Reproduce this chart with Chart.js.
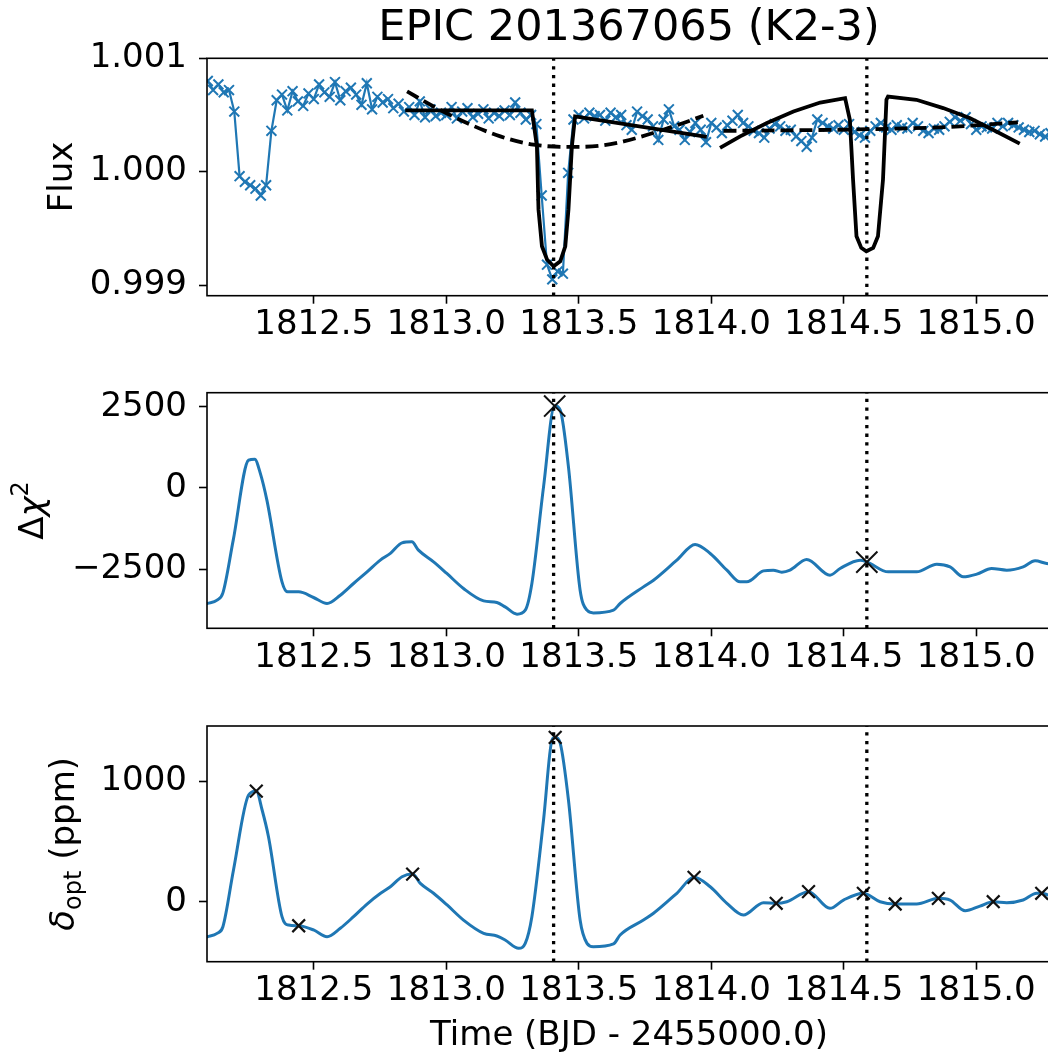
<!DOCTYPE html>
<html>
<head>
<meta charset="utf-8">
<script src="https://cdn.jsdelivr.net/npm/chart.js@4.4.0/dist/chart.umd.min.js"></script>
<style>
  html, body { margin: 0; padding: 0; background: #fff; overflow: hidden; }
  #marco { position: relative; width: 1048px; height: 1059px; overflow: hidden; background: #fff; }
  #marco canvas { position: absolute; left: 0; top: 0; }
</style>
</head>
<body>
<div id="marco">
  <canvas id="flujo" width="1052" height="1059"></canvas>
  <canvas id="chi" width="1052" height="1059"></canvas>
  <canvas id="delta" width="1052" height="1059"></canvas>
</div>
<script>
// Eje de tiempo compartido
const xTicks = [1812.5, 1813.0, 1813.5, 1814.0, 1814.5, 1815.0];
const transitTimes = [1813.405, 1814.587];

// Panel 1: flujo
const fluxTicks = [0.999, 1.000, 1.001];
const fluxTime = [
  1812.10, 1812.12, 1812.14, 1812.16, 1812.18, 1812.20, 1812.22, 1812.24, 1812.26, 1812.28,
  1812.30, 1812.32, 1812.34, 1812.36, 1812.38, 1812.40, 1812.42, 1812.44, 1812.46, 1812.48,
  1812.50, 1812.52, 1812.54, 1812.56, 1812.58, 1812.60, 1812.62, 1812.64, 1812.66, 1812.68,
  1812.70, 1812.72, 1812.74, 1812.76, 1812.78, 1812.80, 1812.82, 1812.84, 1812.86, 1812.88,
  1812.90, 1812.92, 1812.94, 1812.96, 1812.98, 1813.00, 1813.02, 1813.04, 1813.06, 1813.08,
  1813.10, 1813.12, 1813.14, 1813.16, 1813.18, 1813.20, 1813.22, 1813.24, 1813.26, 1813.28,
  1813.30, 1813.32, 1813.34, 1813.36, 1813.38, 1813.40, 1813.42, 1813.44, 1813.46, 1813.48,
  1813.50, 1813.52, 1813.54, 1813.56, 1813.58, 1813.60, 1813.62, 1813.64, 1813.66, 1813.68,
  1813.70, 1813.72, 1813.74, 1813.76, 1813.78, 1813.80, 1813.82, 1813.84, 1813.86, 1813.88,
  1813.90, 1813.92, 1813.94, 1813.96, 1813.98, 1814.00, 1814.02, 1814.04, 1814.06, 1814.08,
  1814.10, 1814.12, 1814.14, 1814.16, 1814.18, 1814.20, 1814.22, 1814.24, 1814.26, 1814.28,
  1814.30, 1814.32, 1814.34, 1814.36, 1814.38, 1814.40, 1814.42, 1814.44, 1814.46, 1814.48,
  1814.50, 1814.52, 1814.54, 1814.56, 1814.58, 1814.60, 1814.62, 1814.64, 1814.66, 1814.68,
  1814.70, 1814.72, 1814.74, 1814.76, 1814.78, 1814.80, 1814.82, 1814.84, 1814.86, 1814.88,
  1814.90, 1814.92, 1814.94, 1814.96, 1814.98, 1815.00, 1815.02, 1815.04, 1815.06, 1815.08,
  1815.10, 1815.12, 1815.14, 1815.16, 1815.18, 1815.20, 1815.22, 1815.24, 1815.26, 1815.28
];
const fluxValue = [
  1.00080, 1.00072, 1.00077, 1.00070, 1.00072, 1.00053, 0.99996, 0.99991, 0.99988, 0.99985,
  0.99979, 0.99988, 1.00036, 1.00063, 1.00068, 1.00054, 1.00071, 1.00062, 1.00058, 1.00069,
  1.00064, 1.00077, 1.00070, 1.00066, 1.00079, 1.00063, 1.00071, 1.00074, 1.00068, 1.00059,
  1.00078, 1.00055, 1.00066, 1.00061, 1.00064, 1.00056, 1.00060, 1.00053, 1.00057, 1.00050,
  1.00062, 1.00048, 1.00055, 1.00049, 1.00052, 1.00050, 1.00057, 1.00047, 1.00053, 1.00056,
  1.00048, 1.00051, 1.00055, 1.00047, 1.00052, 1.00049, 1.00054, 1.00050, 1.00061, 1.00052,
  1.00046, 1.00050, 1.00042, 0.99979, 0.99918, 0.99905, 0.99912, 0.99910, 0.99999, 1.00046,
  1.00050, 1.00047, 1.00052, 1.00049, 1.00050, 1.00045, 1.00052, 1.00048, 1.00050, 1.00041,
  1.00037, 1.00053, 1.00049, 1.00046, 1.00040, 1.00028, 1.00046, 1.00055, 1.00040, 1.00037,
  1.00028, 1.00035, 1.00043, 1.00037, 1.00026, 1.00043, 1.00039, 1.00034, 1.00041, 1.00045,
  1.00050, 1.00043, 1.00040, 1.00036, 1.00034, 1.00030, 1.00038, 1.00042, 1.00040, 1.00036,
  1.00037, 1.00031, 1.00027, 1.00022, 1.00030, 1.00046, 1.00043, 1.00040, 1.00038, 1.00041,
  1.00037, 1.00042, 1.00035, 1.00032, 1.00030, 1.00036, 1.00040, 1.00043, 1.00039, 1.00037,
  1.00041, 1.00039, 1.00038, 1.00043, 1.00040, 1.00036, 1.00034, 1.00038, 1.00037, 1.00040,
  1.00044, 1.00048, 1.00045, 1.00048, 1.00042, 1.00037, 1.00040, 1.00039, 1.00038, 1.00043,
  1.00040, 1.00043, 1.00041, 1.00039, 1.00037, 1.00035, 1.00036, 1.00033, 1.00031, 1.00034
];
// Modelo (linea solida), dos ventanas
const modelTime1 = [1812.845, 1813.323, 1813.342, 1813.348, 1813.361, 1813.380, 1813.405, 1813.430, 1813.449, 1813.461, 1813.474, 1813.486, 1813.983];
const modelFlux1 = [1.00054, 1.00054, 1.000223, 0.999665, 0.999342, 0.999225, 0.999166, 0.999210, 0.999342, 0.999665, 1.000223, 1.000487, 1.000306];
const modelTime2 = [1814.033, 1814.109, 1814.210, 1814.310, 1814.411, 1814.505, 1814.523, 1814.535, 1814.548, 1814.566, 1814.585, 1814.611, 1814.629, 1814.648, 1814.661, 1814.667, 1814.774, 1814.875, 1814.975, 1815.063, 1815.164];
const modelFlux2 = [1.000209, 1.000311, 1.000429, 1.000531, 1.00061, 1.000649, 1.000458, 0.99993, 0.99943, 0.999328, 0.999298, 0.999328, 0.99943, 0.99993, 1.000634, 1.000663, 1.000634, 1.000561, 1.000473, 1.00037, 1.000247];
// Tendencia (linea discontinua)
const trendTime1 = [1812.852, 1812.952, 1813.078, 1813.204, 1813.329, 1813.480, 1813.581, 1813.669, 1813.857, 1813.970];
const trendFlux1 = [1.000708, 1.000575, 1.000429, 1.000311, 1.000238, 1.000218, 1.000229, 1.000267, 1.000399, 1.000493];
const trendTime2 = [1814.046, 1814.30, 1814.60, 1814.90, 1815.157];
const trendFlux2 = [1.00036, 1.000365, 1.000375, 1.000395, 1.000435];

// Panel 2: delta chi cuadrado
const chiTicks = [-2500, 0, 2500];
const chiTime = [
  1812.09, 1812.099, 1812.135, 1812.157, 1812.196, 1812.254, 1812.277, 1812.298, 1812.323, 1812.380, 1812.401,
  1812.443, 1812.499, 1812.550, 1812.600, 1812.650, 1812.701, 1812.751, 1812.789, 1812.833, 1812.870,
  1812.895, 1812.952, 1813.002, 1813.065, 1813.141, 1813.191, 1813.222, 1813.267, 1813.298, 1813.323,
  1813.367, 1813.409, 1813.430, 1813.461, 1813.505, 1813.531, 1813.555, 1813.631, 1813.656, 1813.744,
  1813.782, 1813.870, 1813.939, 1813.996, 1814.059, 1814.109, 1814.134, 1814.197, 1814.234, 1814.266,
  1814.297, 1814.360, 1814.448, 1814.486, 1814.562, 1814.587, 1814.668, 1814.775, 1814.851, 1814.901,
  1814.951, 1815.002, 1815.058, 1815.115, 1815.177, 1815.222, 1815.266, 1815.29
];
const chiValue = [
  -3580, -3559, -3458, -3235, -1611, 853, 884, 453, -379, -2896, -3204,
  -3204, -3377, -3562, -3306, -2946, -2589, -2226, -2020, -1694, -1663,
  -1919, -2279, -2637, -3099, -3481, -3530, -3666, -3890, -3767, -2945,
  31, 2530, 2393, 647, -3152, -3768, -3851, -3768, -3562, -3050,
  -2844, -2227, -1744, -2021, -2535, -2896, -2896, -2557, -2535, -2597,
  -2535, -2206, -2690, -2483, -2227, -2279, -2587, -2587, -2350, -2433,
  -2741, -2658, -2483, -2535, -2433, -2248, -2328, -2340
];
const chiPeakTime = [1813.409, 1814.587];
const chiPeakValue = [2520, -2288];

// Panel 3: profundidad optima (ppm)
const deltaTicks = [0, 1000];
const deltaTime = [
  1812.09, 1812.099, 1812.135, 1812.157, 1812.197, 1812.254, 1812.283, 1812.305, 1812.329, 1812.380, 1812.405,
  1812.443, 1812.499, 1812.550, 1812.600, 1812.650, 1812.701, 1812.752, 1812.789, 1812.833, 1812.873,
  1812.902, 1812.952, 1813.003, 1813.065, 1813.141, 1813.191, 1813.222, 1813.273, 1813.298, 1813.323,
  1813.367, 1813.399, 1813.411, 1813.430, 1813.461, 1813.505, 1813.531, 1813.555, 1813.631, 1813.656,
  1813.744, 1813.782, 1813.870, 1813.935, 1813.996, 1814.059, 1814.121, 1814.197, 1814.245, 1814.285,
  1814.367, 1814.448, 1814.499, 1814.574, 1814.637, 1814.694, 1814.775, 1814.857, 1814.901, 1814.958,
  1815.014, 1815.064, 1815.115, 1815.177, 1815.228, 1815.247, 1815.271, 1815.29
];
const deltaValue = [
  -295, -290, -262, -207, 263, 884, 917, 760, 539, -124, -193,
  -199, -234, -290, -220, -124, -19, 70, 124, 207, 229,
  152, 70, -27, -152, -262, -284, -317, -386, -345, -124,
  677, 1340, 1362, 1312, 843, -152, -345, -373, -350, -276,
  -152, -96, 70, 202, 124, -13, -110, -8, -13, 0,
  83, -55, 14, 70, 0, -19, -19, 28, 14, -75,
  -36, 0, -8, 14, 70, 70, 56, 45
];
const deltaPeakTime = [1812.283, 1812.443, 1812.873, 1813.411, 1813.935, 1814.245, 1814.367, 1814.574, 1814.694, 1814.857, 1815.064, 1815.247];
const deltaPeakValue = [917, -199, 229, 1362, 202, -13, 83, 70, -19, 28, 0, 70];

// Limites de los ejes
const xMin = 1812.097, xMax = 1815.282;
const fluxMin = 0.998906, fluxMax = 1.001;
const chiMin = -4326, chiMax = 2931;
const deltaMin = -497, deltaMax = 1456;

const azul = '#1f77b4';
const fuente = 'DejaVu Sans';
Chart.defaults.font.family = fuente;
Chart.defaults.color = '#000';

const puntos = (xs, ys) => xs.map((x, i) => ({ x: x, y: ys[i] }));

// Lineas punteadas en los tiempos de transito
function lineasTransito(yMin, yMax) {
    return transitTimes.map(t => ({
        data: [{ x: t, y: yMin }, { x: t, y: yMax }],
        showLine: true, pointRadius: 0, borderColor: '#000', borderWidth: 3.3,
        borderDash: [3.3, 5.4], borderCapStyle: 'butt', clip: 0
    }));
}

// Marco de los ejes (los cuatro lados)
const marcoEjes = {
    id: 'marcoEjes',
    afterDatasetsDraw(chart) {
        const { ctx, chartArea: a } = chart;
        ctx.save();
        ctx.strokeStyle = '#000';
        ctx.lineWidth = 1.6;
        ctx.strokeRect(a.left, a.top, a.right - a.left, a.bottom - a.top);
        ctx.restore();
    }
};

// Titulo vertical con sub/superindices
function tituloY(x, partes) {
    return {
        id: 'tituloY',
        afterDraw(chart) {
            const { ctx, chartArea: a } = chart;
            ctx.save();
            const anchos = partes.map(p => { ctx.font = p.font; return ctx.measureText(p.text).width; });
            const total = anchos.reduce((s, w) => s + w, 0);
            ctx.translate(x, (a.top + a.bottom) / 2);
            ctx.rotate(-Math.PI / 2);
            ctx.fillStyle = '#000';
            ctx.textBaseline = 'alphabetic';
            let u = -total / 2;
            partes.forEach((p, i) => {
                ctx.font = p.font;
                ctx.fillText(p.text, u, -(p.rise || 0));
                u += anchos[i];
            });
            ctx.restore();
        }
    };
}

const rejilla = { display: true, drawOnChartArea: false, drawTicks: true, tickLength: 8, tickWidth: 1.6, tickColor: '#000' };

function opciones(cfg) {
    return {
        responsive: false,
        animation: false,
        events: [],
        devicePixelRatio: 1,
        layout: { autoPadding: false, padding: { left: 0, right: 1, top: cfg.padTop, bottom: cfg.padBottom } },
        plugins: {
            legend: { display: false },
            tooltip: { enabled: false },
            title: cfg.title || { display: false }
        },
        scales: {
            x: {
                type: 'linear', min: xMin, max: xMax,
                afterBuildTicks: s => { s.ticks = xTicks.map(v => ({ value: v })); },
                afterFit: s => { s.height = cfg.xHeight; s.paddingLeft = 0; s.paddingRight = 0; },
                ticks: { callback: v => v.toFixed(1), font: { size: 34 }, color: '#000', padding: 1, maxRotation: 0, autoSkip: false },
                grid: rejilla,
                border: { display: false },
                title: cfg.xTitle || { display: false }
            },
            y: {
                type: 'linear', min: cfg.yMin, max: cfg.yMax,
                afterBuildTicks: s => { s.ticks = cfg.yTicks.map(v => ({ value: v })); },
                afterFit: s => { s.width = 207; s.paddingTop = 0; s.paddingBottom = 0; },
                ticks: { callback: cfg.yFormat, font: { size: 34 }, color: '#000', padding: 12, autoSkip: false },
                grid: rejilla,
                border: { display: false }
            }
        }
    };
}

const menos = v => (v < 0 ? '\u2212' + Math.abs(v) : String(v));

// Panel 1
new Chart(document.getElementById('flujo'), {
    type: 'scatter',
    data: {
        datasets: [
            ...lineasTransito(fluxMin, fluxMax),
            { data: puntos(modelTime1, modelFlux1), showLine: true, pointRadius: 0, borderColor: '#000', borderWidth: 3.8, clip: 0 },
            { data: puntos(modelTime2, modelFlux2), showLine: true, pointRadius: 0, borderColor: '#000', borderWidth: 3.8, clip: 0 },
            { data: puntos(trendTime1, trendFlux1), showLine: true, pointRadius: 0, borderColor: '#000', borderWidth: 3.8, borderDash: [13, 6], cubicInterpolationMode: 'monotone', clip: 0 },
            { data: puntos(trendTime2, trendFlux2), showLine: true, pointRadius: 0, borderColor: '#000', borderWidth: 3.8, borderDash: [13, 6], cubicInterpolationMode: 'monotone', clip: 0 },
            { data: puntos(fluxTime, fluxValue), showLine: true, borderColor: azul, borderWidth: 2.2,
              pointStyle: 'crossRot', pointRadius: 7, pointBorderColor: azul, pointBorderWidth: 2, clip: 0 }
        ]
    },
    options: opciones({
        padTop: 0, padBottom: 714.3, xHeight: 49,
        yMin: fluxMin, yMax: fluxMax, yTicks: fluxTicks, yFormat: v => v.toFixed(3),
        title: { display: true, text: 'EPIC 201367065 (K2-3)', font: { size: 43, weight: 'normal' }, color: '#000', padding: { top: 3, bottom: 3.7 }, fullSize: false }
    }),
    plugins: [marcoEjes, tituloY(72, [{ text: 'Flux', font: '34px "DejaVu Sans"' }])]
});

// Panel 2
new Chart(document.getElementById('chi'), {
    type: 'scatter',
    data: {
        datasets: [
            ...lineasTransito(chiMin, chiMax),
            { data: puntos(chiPeakTime, chiPeakValue), pointStyle: 'crossRot', pointRadius: 15, pointBorderColor: '#111', pointBorderWidth: 2, clip: 0 },
            { data: puntos(chiTime, chiValue), showLine: true, pointRadius: 0, borderColor: azul, borderWidth: 3, cubicInterpolationMode: 'monotone', clip: 0 }
        ]
    },
    options: opciones({
        padTop: 392.7, padBottom: 381.7, xHeight: 49,
        yMin: chiMin, yMax: chiMax, yTicks: chiTicks, yFormat: menos
    }),
    plugins: [marcoEjes, tituloY(43, [
        { text: '\u0394', font: '34px "DejaVu Sans"' },
        { text: '\u03c7', font: 'italic 34px "DejaVu Sans"' },
        { text: '2', font: '24px "DejaVu Sans"', rise: 15 }
    ])]
});

// Panel 3
new Chart(document.getElementById('delta'), {
    type: 'scatter',
    data: {
        datasets: [
            ...lineasTransito(deltaMin, deltaMax),
            { data: puntos(deltaPeakTime, deltaPeakValue), pointStyle: 'crossRot', pointRadius: 9, pointBorderColor: '#111', pointBorderWidth: 2.2, clip: 0 },
            { data: puntos(deltaTime, deltaValue), showLine: true, pointRadius: 0, borderColor: azul, borderWidth: 3, cubicInterpolationMode: 'monotone', clip: 0 }
        ]
    },
    options: opciones({
        padTop: 726, padBottom: 0, xHeight: 97.3,
        yMin: deltaMin, yMax: deltaMax, yTicks: deltaTicks, yFormat: menos,
        xTitle: { display: true, text: 'Time (BJD - 2455000.0)', font: { size: 34 }, color: '#000', padding: { top: 0, bottom: 2 } }
    }),
    plugins: [marcoEjes, tituloY(74, [
        { text: '\u03b4', font: 'italic 34px "DejaVu Sans"' },
        { text: 'opt', font: '24px "DejaVu Sans"', rise: -7 },
        { text: ' (ppm)', font: '34px "DejaVu Sans"' }
    ])]
});
</script>
</body>
</html>
